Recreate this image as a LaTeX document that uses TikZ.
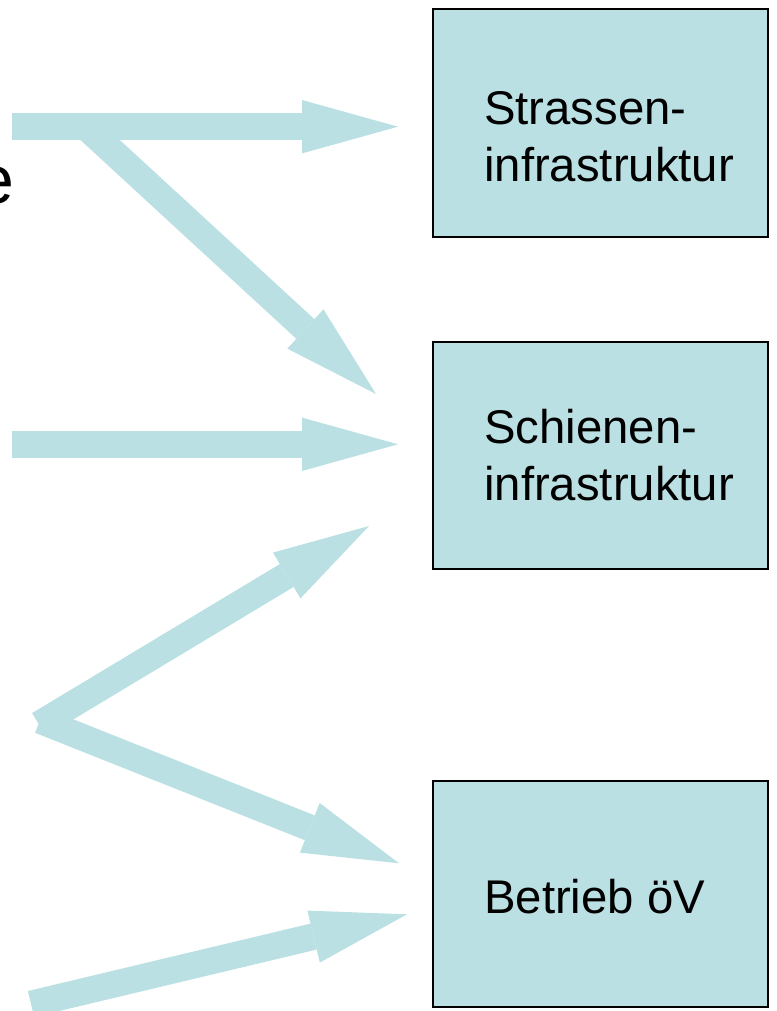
\documentclass[tikz,border=0pt]{standalone}
\usepackage{fontspec}
\setmainfont{Liberation Sans}
\usetikzlibrary{arrows.meta}
\definecolor{tealfill}{RGB}{187,224,227}
\begin{document}
\begin{tikzpicture}[x=1pt,y=-1pt,
  blockarrow/.style={draw=tealfill, line width=26.7pt, line cap=butt,
    -{Triangle[length=96pt,width=53.4pt,line width=0pt]}},
  box/.style={draw=black, fill=tealfill, line width=1.2pt, rectangle,
    inner sep=0pt, minimum width=335pt},
  txt/.style={anchor=base west, inner sep=0pt, font=\fontsize{47.3}{56}\selectfont}
]
\clip (0,0) rectangle (776,1011);
% partial text at the left edge
\node[anchor=base east, inner sep=0pt, font=\fontsize{68}{80}\selectfont] (cut) at (14.7,204) {e};
% boxes
\node[box, minimum height=228pt] (b1) at (600.5,123) {};
\node[box, minimum height=227pt] (b2) at (600.5,455.5) {};
\node[box, minimum height=226pt] (b3) at (600.5,894) {};
\node[txt] (b1a) at (484,125) {Strassen-};
\node[txt] (b1b) at (484,182) {infrastruktur};
\node[txt] (b2a) at (484,443) {Schienen-};
\node[txt] (b2b) at (484,500) {infrastruktur};
\node[txt] (b3a) at (484,913) {Betrieb öV};
% arrow end points
\coordinate (s1) at (12,126.7);   \coordinate (t1) at (398,126.7);
\coordinate (s2) at (86,127);     \coordinate (t2) at (376,394);
\coordinate (s3) at (12,444.3);   \coordinate (t3) at (398,444.3);
\coordinate (s4) at (39,724.5);   \coordinate (t4) at (369,526);
\coordinate (s5) at (40,720.4);   \coordinate (t5) at (399,863.3);
\coordinate (s6) at (31,1004);    \coordinate (t6) at (407,914.3);
\draw[blockarrow] (s2) -- (t2);
\draw[blockarrow] (s1) -- (t1);
\draw[blockarrow] (s3) -- (t3);
\draw[blockarrow] (s4) -- (t4);
\draw[blockarrow] (s5) -- (t5);
\draw[blockarrow] (s6) -- (t6);
\end{tikzpicture}
\end{document}
